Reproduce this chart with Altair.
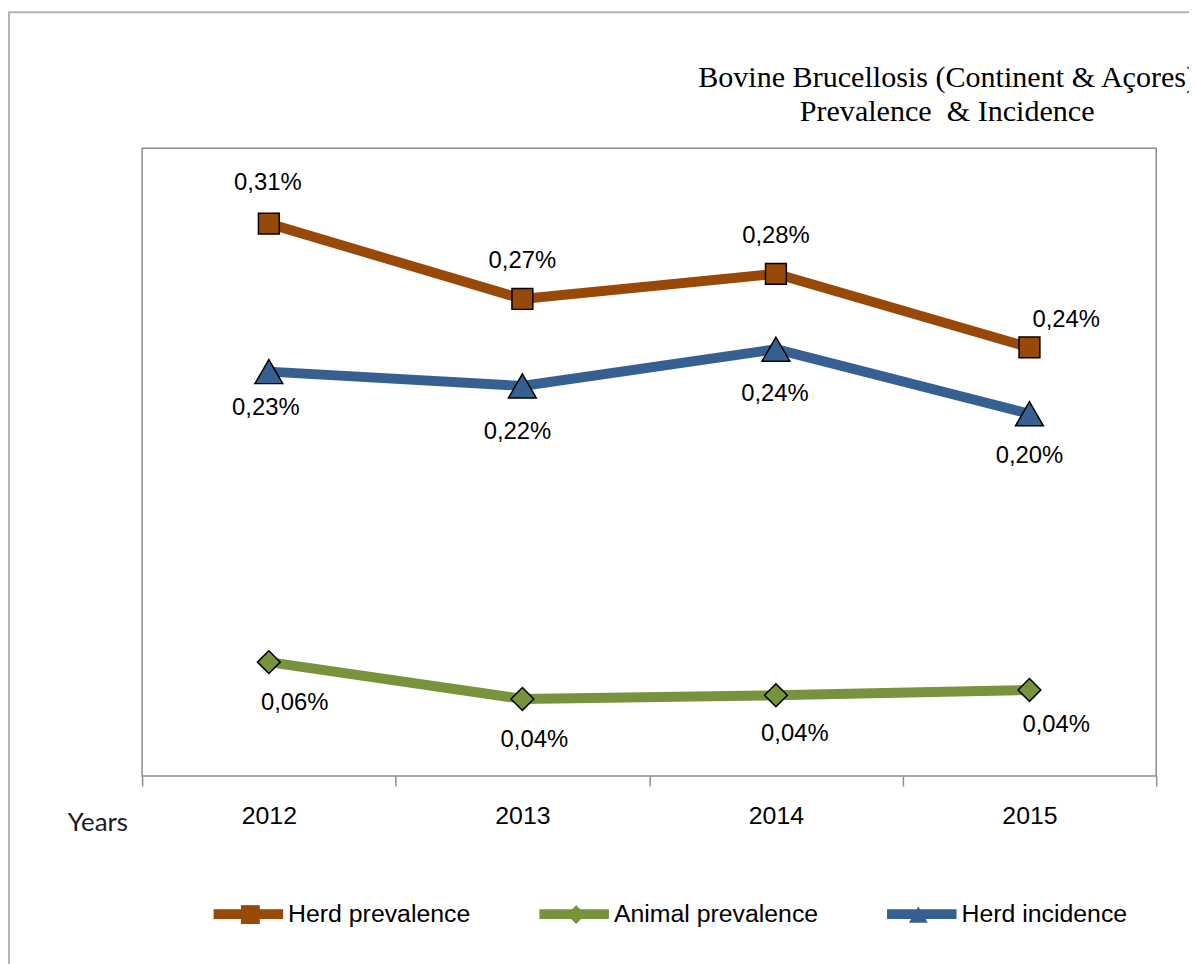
import altair as alt
import pandas as pd

# ---------------- data ----------------
years = [2012, 2013, 2014, 2015]
series_names = ["Herd prevalence", "Animal prevalence", "Herd incidence"]

herd_prevalence = [0.308, 0.266, 0.280, 0.239]
herd_prevalence_labels = ["0,31%", "0,27%", "0,28%", "0,24%"]

animal_prevalence = [0.0635, 0.043, 0.045, 0.048]
animal_prevalence_labels = ["0,06%", "0,04%", "0,04%", "0,04%"]

herd_incidence = [0.2255, 0.2175, 0.238, 0.202]
herd_incidence_labels = ["0,23%", "0,22%", "0,24%", "0,20%"]

title_lines = ["Bovine Brucellosis (Continent & Açores)", "Prevalence\u00a0 & Incidence"]
x_title = "Years"

# ---------------- styles ----------------
colors = ["#984807", "#77933C", "#376092"]
shapes = ["square", "diamond", "triangle-up"]
marker_sizes = [441, 529, 784]
LABEL_FONT = "Liberation Sans"
GRAY = "#8c8c8c"

# legend marker placement (x of each marker legend, relative to plot area)
marker_legend_x = [96.5, 424.5, 769]

# label offsets (dx, dy) from each point, in pixels
label_offsets = {
    ("Herd prevalence", 2012): (-1, -34),
    ("Herd prevalence", 2013): (0, -31),
    ("Herd prevalence", 2014): (0, -31),
    ("Herd prevalence", 2015): (37, -21),
    ("Herd incidence", 2012): (-3, 44),
    ("Herd incidence", 2013): (-5, 53),
    ("Herd incidence", 2014): (-1, 52),
    ("Herd incidence", 2015): (0, 50),
    ("Animal prevalence", 2012): (26, 48),
    ("Animal prevalence", 2013): (12, 48),
    ("Animal prevalence", 2014): (19, 46),
    ("Animal prevalence", 2015): (27, 42),
}

rows = []
for name, vals, labs in [
    ("Herd prevalence", herd_prevalence, herd_prevalence_labels),
    ("Animal prevalence", animal_prevalence, animal_prevalence_labels),
    ("Herd incidence", herd_incidence, herd_incidence_labels),
]:
    for yr, v, lab in zip(years, vals, labs):
        rows.append({"year": yr, "value": v, "label": lab, "series": name, "series_m": name})
df = pd.DataFrame(rows)

W, H = 1021, 632
x_enc = alt.X(
    "year:Q",
    scale=alt.Scale(domain=[2011.5, 2015.5], nice=False, zero=False),
    axis=alt.Axis(
        values=[2011.5, 2012.5, 2013.5, 2014.5, 2015.5],
        labelExpr="datum.value < 2015 ? format(datum.value + 0.5, 'd') : ''",
        labelOffset=W / 8,
        labelFlush=False,
        labelOverlap=False,
        labelFont=LABEL_FONT,
        labelFontSize=25,
        labelColor="#000000",
        labelBaseline="alphabetic",
        labelPadding=38,
        tickSize=10,
        tickColor=GRAY,
        tickWidth=1.5,
        domain=False,
        grid=False,
        title=x_title,
        titleX=-45,
        titleY=55,
        titleFont="Lato",
        titleFontSize=26,
        titleFontWeight="normal",
        titleColor="#1a1a1a",
        titleAlign="center",
        titleBaseline="alphabetic",
        titleAngle=0,
    ),
)
y_enc = alt.Y("value:Q", scale=alt.Scale(domain=[0, 0.35], nice=False, zero=True), axis=None)

base = alt.Chart(df)

lines = base.mark_line(strokeWidth=10).encode(
    x=x_enc,
    y=y_enc,
    color=alt.Color(
        "series:N",
        sort=series_names,
        scale=alt.Scale(range=colors),
        legend=alt.Legend(
            title=None,
            orient="none",
            legendX=67,
            legendY=731,
            direction="horizontal",
            symbolType="stroke",
            symbolSize=4900,
            symbolStrokeWidth=10,
            labelFont=LABEL_FONT,
            labelFontSize=25,
            labelColor="#000000",
            labelOffset=0,
            labelLimit=500,
            columnPadding=49,
            zindex=1,
        ),
    ),
    order="year:Q",
)

point_layers = []
for name, msize, shp, col, lx in zip(series_names, marker_sizes, shapes, colors, marker_legend_x):
    mleg = dict(
        title=None,
        orient="none",
        legendX=lx,
        legendY=759,
        symbolSize=361,
        symbolStrokeColor="#000000",
        symbolStrokeWidth=1.5,
        labelExpr="''",
        labelFontSize=25,
        labelOffset=0,
        zindex=2,
    )
    point_layers.append(
        base.transform_filter(alt.datum.series == name).mark_point(
            filled=True, opacity=1, stroke="#000000", strokeWidth=1.5, size=msize
        ).encode(
            x=x_enc,
            y=y_enc,
            shape=alt.Shape("series_m:N", scale=alt.Scale(domain=[name], range=[shp]),
                            legend=alt.Legend(**mleg)),
            fill=alt.Fill("series_m:N", scale=alt.Scale(domain=[name], range=[col]),
                          legend=alt.Legend(**mleg)),
        )
    )

text_layers = []
for (name, yr), (dx, dy) in label_offsets.items():
    text_layers.append(
        base.transform_filter(
            (alt.datum.series == name) & (alt.datum.year == yr)
        ).mark_text(
            font=LABEL_FONT, fontSize=24, color="#000000",
            align="center", baseline="alphabetic", dx=dx, dy=dy,
        ).encode(x=x_enc, y=y_enc, text="label:N")
    )

frame = alt.Chart(pd.DataFrame({"k": [0]})).mark_rect(
    fill=None, stroke="#b4b4b4", strokeWidth=2
).encode(
    x=alt.value(-134), x2=alt.value(1100), y=alt.value(-137), y2=alt.value(900)
)

chart = alt.layer(frame, lines, *point_layers, *text_layers).resolve_scale(
    shape="independent", fill="independent"
).properties(
    width=W,
    height=H,
    title=alt.Title(
        text=title_lines,
        font="Liberation Serif",
        fontSize=30.3,
        fontWeight="normal",
        color="#000000",
        anchor="middle",
        dx=300,
        offset=-117,
        lineHeight=34,
    ),
    padding={"left": 135, "top": 138, "right": 33, "bottom": 186},
    autosize=alt.AutoSizeParams(type="none"),
).configure(
    background="#ffffff",
    view=alt.ViewConfig(stroke=GRAY, strokeWidth=1.5),
)

chart.save("out.html", embed_options={"renderer": "svg", "actions": False})
